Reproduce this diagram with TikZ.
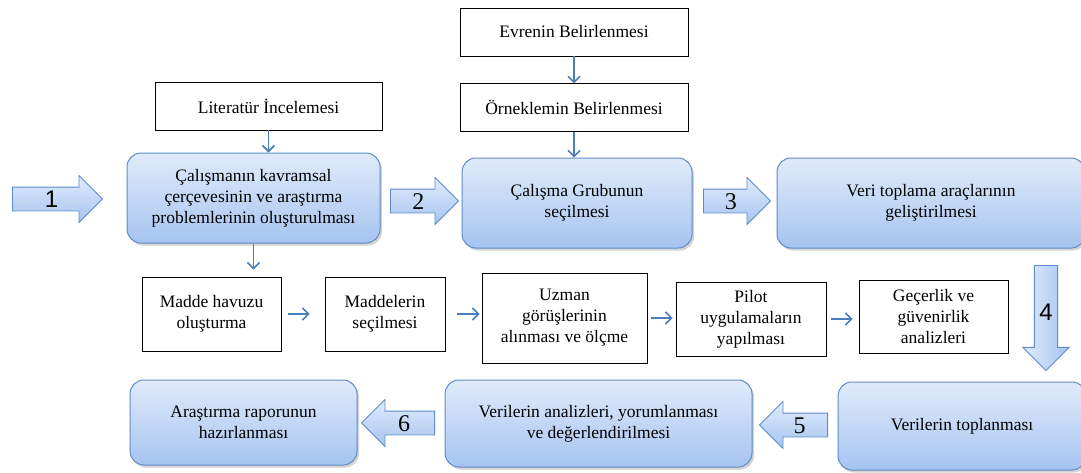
\documentclass[tikz,border=0pt]{standalone}
\usepackage{fontspec}
\setmainfont{Liberation Serif}
\newfontfamily\digitsans{Liberation Sans}
\usetikzlibrary{shapes,arrows.meta,positioning,shadows}

\definecolor{boxline}{RGB}{94,140,201}
\definecolor{boxtop}{RGB}{224,235,251}
\definecolor{boxbottom}{RGB}{166,196,240}
\definecolor{linkblue}{RGB}{74,126,187}

\begin{document}
\begin{tikzpicture}[
    x=1pt, y=-1pt,
    font=\fontsize{17.5}{21}\selectfont,
    stage/.style={rectangle, draw=boxline, line width=1pt, rounded corners=14pt,
                  top color=boxtop, bottom color=boxbottom, align=center,
                  drop shadow={opacity=0.35, shadow xshift=2pt, shadow yshift=-2.5pt}},
    task/.style={rectangle, draw, line width=0.9pt, fill=white, align=center},
    flow/.style={single arrow, draw=boxline, line width=0.9pt,
                 top color=boxtop, bottom color=boxbottom,
                 single arrow head extend=11.5pt, single arrow tip angle=90,
                 inner xsep=2pt, inner ysep=3pt, text height=17pt, text depth=0pt,
                 anchor=tail, font=\fontsize{24}{24}\selectfont},
    line/.style={draw=linkblue, line width=1.6pt, -{Straight Barb[length=6pt,width=12pt]}},
]
\useasboundingbox (0,0) rectangle (1081,472);

% Sample and literature
\node [task, minimum width=228pt, minimum height=48pt] (evren) at (574,32) {Evrenin Belirlenmesi};
\node [task, minimum width=228pt, minimum height=48pt, below=27pt of evren] (orneklem) {Örneklemin Belirlenmesi};
\node [task, minimum width=227pt, minimum height=48pt] (literatur) at (268.5,106) {Literatür İncelemesi};

% Main steps, upper line
\node [stage, minimum width=253pt, minimum height=90pt] (kavram) at (253.5,198) {Çalışmanın kavramsal\\çerçevesinin ve araştırma\\problemlerinin oluşturulması};
\node [stage, minimum width=230pt, minimum height=90pt] (grup) at (577,203) {Çalışma Grubunun\\seçilmesi};
\node [stage, minimum width=308pt, minimum height=90pt] (arac) at (931,203) {Veri toplama araçlarının\\geliştirilmesi};

% Tool development
\node [task, minimum width=139pt, minimum height=74pt] (madde) at (211.5,314) {Madde havuzu\\oluşturma};
\node [task, minimum width=120pt, minimum height=74pt] (secim) at (385,314) {Maddelerin\\seçilmesi};
\node [task, minimum width=165pt, minimum height=90pt] (uzman) at (564.5,318) {Uzman\\görüşlerinin\\alınması ve ölçme};
\node [task, minimum width=150pt, minimum height=74pt] (pilot) at (751,319) {Pilot\\uygulamaların\\yapılması};
\node [task, minimum width=149pt, minimum height=73pt] (gecerlik) at (933.5,316.5) {Geçerlik ve\\güvenirlik\\analizleri};

% Main steps, lower line
\node [stage, minimum width=248pt, minimum height=88pt] (toplama) at (962,426) {Verilerin toplanması};
\node [stage, minimum width=307pt, minimum height=87pt] (analiz) at (598.5,423.5) {Verilerin analizleri, yorumlanması\\ve değerlendirilmesi};
\node [stage, minimum width=227pt, minimum height=85pt] (rapor) at (243.5,422.5) {Araştırma raporunun\\hazırlanması};

% Numbered block arrows
\node [flow, minimum height=90pt, font=\digitsans\fontsize{24}{24}\selectfont] (s1) at (12,199) {1};
\node [flow, minimum height=68pt] (s2) at (390,201) {2};
\node [flow, minimum height=67pt] (s3) at (703,201) {3};
\node [flow, minimum height=105pt, shape border rotate=270, inner xsep=4.5pt,
       left color=boxtop, right color=boxbottom, font=\digitsans\fontsize{24}{24}\selectfont] (s4) at (1046,265) {4};
\node [flow, minimum height=68pt, shape border rotate=180] (s5) at (828,425) {5};
\node [flow, minimum height=73pt, shape border rotate=180] (s6) at (435,423) {6};

% Small connectors
\draw [line] (evren) -- (orneklem);
\draw [line] (orneklem.south) -- (orneklem.south |- grup.north);
\draw [line] (literatur.south) -- (literatur.south |- kavram.north);
\draw [line, shorten >=7pt] (kavram) -- (kavram |- madde.north);
\draw [line, shorten <=7pt, shorten >=15pt] (madde) -- (secim);
\draw [line, shorten <=12pt, shorten >=2pt] (secim.east) -- (secim.east -| uzman.west);
\draw [line, shorten <=4pt, shorten >=3pt] (uzman.east) -- (uzman.east -| pilot.west);
\draw [line, shorten <=5pt, shorten >=6pt] (pilot.east) -- (pilot.east -| gecerlik.west);

\end{tikzpicture}
\end{document}
